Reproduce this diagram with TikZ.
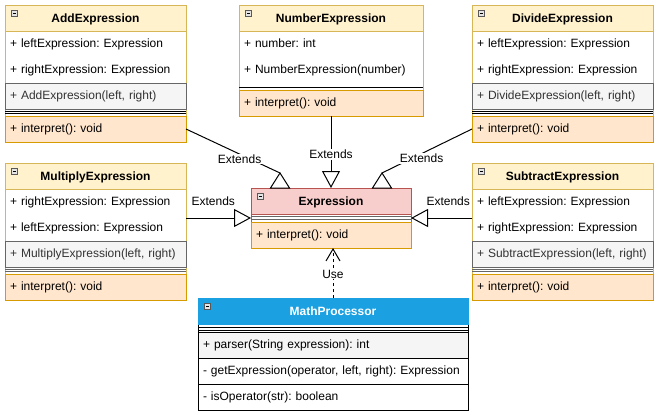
\documentclass[tikz,border=0pt]{standalone}
\usepackage{fontspec}
\setmainfont{Liberation Sans}
\frenchspacing
\usetikzlibrary{arrows.meta}
\definecolor{hdrfill}{HTML}{FFF2CC}
\definecolor{hdrline}{HTML}{D6B656}
\definecolor{ctorfill}{HTML}{F5F5F5}
\definecolor{ctorline}{HTML}{666666}
\definecolor{ctortext}{HTML}{333333}
\definecolor{opfill}{HTML}{FFE6CC}
\definecolor{opline}{HTML}{D79B00}
\definecolor{exprfill}{HTML}{F8CECC}
\definecolor{exprline}{HTML}{B85450}
\definecolor{mpblue}{HTML}{1BA1E2}
\tikzset{
	box/.style={draw=#1, anchor=north west, inner sep=0pt},
	hdr/.style={anchor=north west, minimum width=#1, minimum height=26pt, inner sep=0pt, text height=10pt, text depth=0.5pt, fill=hdrfill, draw=hdrline, font=\fontsize{12}{14}\selectfont\bfseries},
	row/.style={anchor=north west, text width=#1, minimum height=26pt, inner xsep=5pt, inner ysep=0pt, align=left, text height=9.5pt, text depth=2.5pt},
	ctor/.style={row=#1, fill=ctorfill, draw=ctorline, text=ctortext},
	op/.style={row=#1, fill=opfill, draw=opline},
	sepline/.style={draw=#1, line width=0.8pt},
	ext/.style={-{Triangle[open,length=17pt,width=18pt]}},
	uses/.style={dash pattern=on 3pt off 3pt, -{Straight Barb[length=12pt,width=14pt]}},
	lbl/.style={fill=white, inner sep=1pt},
	minusbox/.pic={\draw[line width=0.6pt, draw=gray!70!black, fill=gray!20] (0,0) rectangle (6,6); \draw[line width=0.8pt] (1.5,3) -- (4.5,3);}
}
\begin{document}
\begin{tikzpicture}[x=1pt, y=-1pt, line width=1pt, every node/.style={font=\fontsize{12}{14}\selectfont, outer sep=0pt}]
	\path[use as bounding box] (0,0) rectangle (657,415);
	% the four binary expressions
	\foreach \n/\cls/\x/\y/\fa/\fb/\sc in {add/Add/5/5/left/right/black, div/Divide/472/5/left/right/black, mul/Multiply/5/163/right/left/ctorline, sub/Subtract/472/163/left/right/ctorline}{
		\node[box=hdrline, minimum width=181pt, minimum height=137pt] (\n) at (\x,\y) {};
		\node[hdr=181pt] (\n0) at (\n.north west) {\cls Expression};
		\node[row=171pt] (\n1) at (\n0.south west) {+ \fa Expression: Expression};
		\node[row=171pt] (\n2) at (\n1.south west) {+ \fb Expression: Expression};
		\node[ctor=171pt] (\n3) at (\n2.south west) {+ \cls Expression(left, right)};
		\node[op=171pt] (\n4) at ([yshift=-7pt]\n3.south west) {+ interpret(): void};
		\draw[sepline=\sc] ([yshift=-2.5pt]\n3.south west) -- ([yshift=-2.5pt]\n3.south east);
		\draw[sepline=\sc] ([yshift=-4.5pt]\n3.south west) -- ([yshift=-4.5pt]\n3.south east);
	}
	% number
	\node[box=hdrline, minimum width=184pt, minimum height=111pt] (num) at (239,5) {};
	\node[hdr=184pt] (num0) at (num.north west) {NumberExpression};
	\node[row=174pt] (num1) at (num0.south west) {+ number: int};
	\node[row=174pt] (num2) at (num1.south west) {+ NumberExpression(number)};
	\node[op=174pt] (num4) at ([yshift=-7pt]num2.south west) {+ interpret(): void};
	\draw[sepline=black] ([yshift=-4pt]num2.south west) -- ([yshift=-4pt]num2.south east);
	% expression
	\node[box=exprline, minimum width=160pt, minimum height=60pt] (expr) at (251,188) {};
	\node[hdr=160pt, fill=exprfill, draw=exprline] (expr0) at (expr.north west) {Expression};
	\node[op=150pt] (expr4) at ([yshift=-8pt]expr0.south west) {+ interpret(): void};
	\draw[sepline=ctorline] ([yshift=-2.5pt]expr0.south west) -- ([yshift=-2.5pt]expr0.south east);
	\draw[sepline=ctorline] ([yshift=-5pt]expr0.south west) -- ([yshift=-5pt]expr0.south east);
	% processor
	\node[box=black, minimum width=270pt, minimum height=112pt] (mp) at (198,298) {};
	\node[hdr=270pt, fill=mpblue, draw=mpblue, text=white] (mp0) at (mp.north west) {MathProcessor};
	\node[row=260pt, draw=black, fill=ctorfill] (mp1) at ([yshift=-8pt]mp0.south west) {+ parser(String expression): int};
	\node[row=260pt, draw=black] (mp2) at (mp1.south west) {- getExpression(operator, left, right): Expression};
	\node[row=260pt, draw=black] (mp3) at (mp2.south west) {- isOperator(str): boolean};
	\draw[sepline=black] ([yshift=-3.5pt]mp0.south west) -- ([yshift=-3.5pt]mp0.south east);
	\draw[sepline=black] ([yshift=-6pt]mp0.south west) -- ([yshift=-6pt]mp0.south east);
	\foreach \h in {add0,div0,mul0,sub0,num0,expr0,mp0}{\pic at ([shift={(6.5pt,-5pt)}]\h.north west) {minusbox};}
	% connectors
	\coordinate (tipa) at ([xshift=29pt,yshift=15pt]expr.north west);
	\coordinate (tipd) at ([xshift=-29pt,yshift=15pt]expr.north east);
	\draw (add4.east) -- (tipa) node[lbl,pos=.57,yshift=-5pt] {Extends};
	\draw (div4.west) -- (tipd) node[lbl,pos=.56,yshift=-5pt] {Extends};
	\foreach \t in {tipa,tipd}{\draw[fill=white] (\t) -- ++(-9.5,15) -- ++(19,0) -- cycle;}
	\draw[ext] (num.south) -- (num.south |- expr.north) node[lbl,pos=.53] {Extends};
	\draw[ext] (mul.east |- expr.west) -- (expr.west) node[lbl,pos=.42,above=11pt] {Extends};
	\draw[ext] (sub.west |- expr.east) -- (expr.east) node[lbl,pos=.39,above=11pt] {Extends};
	\draw[uses] (mp.north) -- (mp.north |- expr.south) node[lbl,pos=.48] {Use};
\end{tikzpicture}
\end{document}
